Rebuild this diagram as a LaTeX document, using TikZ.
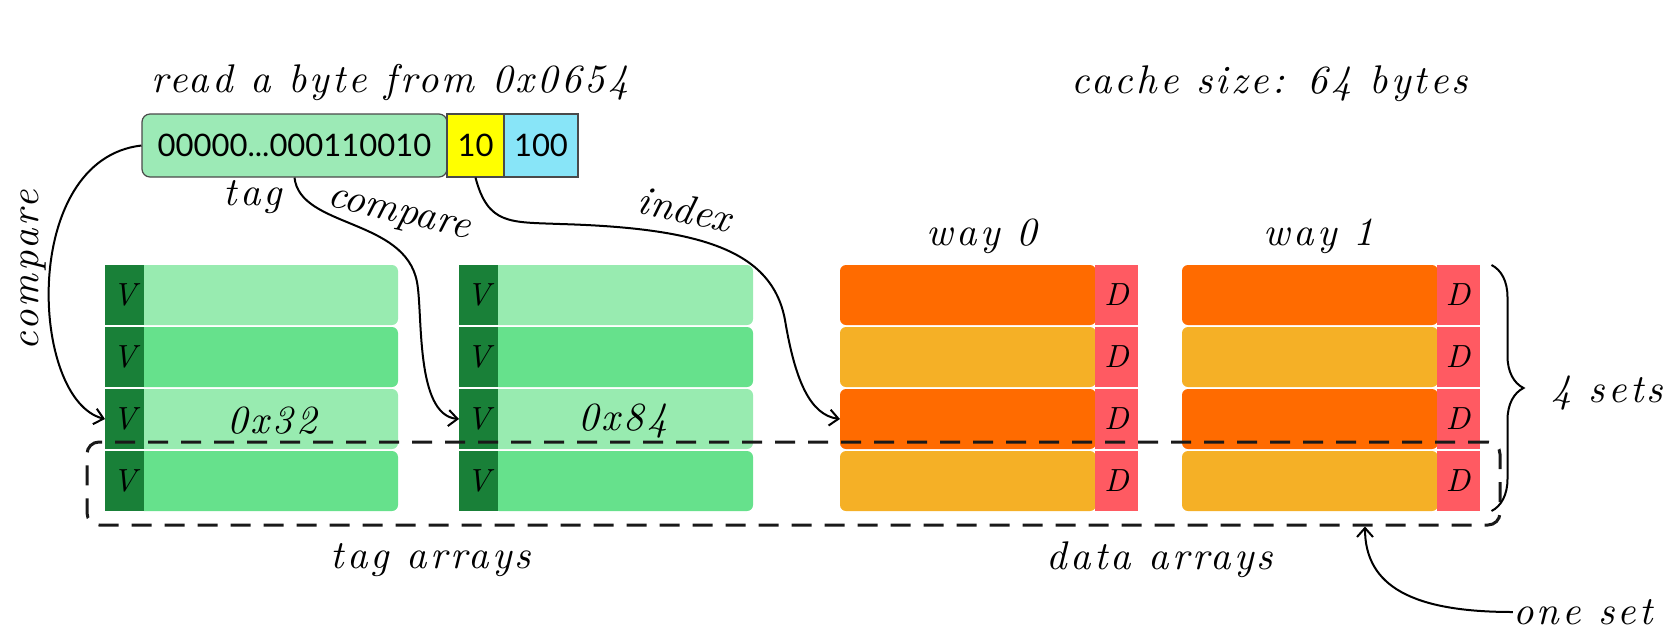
\documentclass[tikz,border=0pt]{standalone}
\usepackage{fontspec}
\newfontfamily\handfont[Extension=.otf,LetterSpace=8]{lmroman10-italic}
\newfontfamily\handplain[Extension=.otf]{lmroman10-italic}
\newfontfamily\numfont{Lato}
\usetikzlibrary{arrows.meta,decorations.pathreplacing,calc}
\definecolor{tagl}{HTML}{98EBB0}
\definecolor{tagm}{HTML}{66E18C}
\definecolor{tagv}{HTML}{198038}
\definecolor{dor}{HTML}{FF6B00}
\definecolor{dgold}{HTML}{F5B026}
\definecolor{dred}{HTML}{FF5A62}
\definecolor{addrg}{HTML}{9CEAB6}
\definecolor{addry}{HTML}{FFFF00}
\definecolor{addrb}{HTML}{88E5F8}
\definecolor{edge}{HTML}{4A4A4A}
\begin{document}
\begin{tikzpicture}[x=0.5pt,y=-0.5pt,
  hand/.style={font=\handfont\fontsize{20}{24}\selectfont, inner sep=0pt},
  handrot/.style={font=\handplain\fontsize{20.5}{24}\selectfont, inner sep=0pt},
  small/.style={font=\handfont\fontsize{16}{20}\selectfont},
  cell/.style={inner sep=0pt, outer sep=0pt, minimum height=30pt},
  vcell/.style={cell, fill=tagv, minimum width=19.5pt, small},
  tbody/.style={cell, fill=#1, minimum width=130pt, rounded corners=3pt},
  dbody/.style={cell, fill=#1, minimum width=128pt, rounded corners=3pt},
  dcell/.style={cell, fill=dred, minimum width=21.5pt, small},
  conn/.style={draw=black, line width=1pt, -{Straight Barb[length=4.5pt,width=8pt]}},
  abox/.style={draw=edge, line width=0.6pt, inner sep=0pt, minimum height=31.5pt,
    font=\numfont\fontsize{15.5}{18}\selectfont},
  setbox/.style={draw=black!90, line width=1.5pt, dash pattern=on 10pt off 6.5pt,
    rounded corners=6pt, inner sep=0pt}
]
\useasboundingbox (0,0) rectangle (1678,639);

% rows
\foreach \r/\y/\tc/\dc in {1/295/tagl/dor,2/357/tagm/dgold,3/419/tagl/dor,4/481/tagm/dgold}{
  \node[tbody=\tc] (ta\r) at (268,\y) {};
  \node[vcell] (tav\r) at (124.5,\y) {V};
  \node[tbody=\tc] (tb\r) at (623,\y) {};
  \node[vcell] (tbv\r) at (478.5,\y) {V};
  \node[dbody=\dc] (da\r) at (968,\y) {};
  \node[dcell] (dad\r) at (1116.5,\y) {D};
  \node[dbody=\dc] (db\r) at (1310,\y) {};
  \node[dcell] (dbd\r) at (1458,\y) {D};
}
\node[hand] (l32) at (272,421) {0x32};
\node[hand] (l84) at (623,421) {0x84};

% address
\node[abox, fill=addrg, rounded corners=4pt, minimum width=152.5pt] (atag) at (294.5,145.5) {00000...000110010};
\node[abox, fill=addry, minimum width=28.5pt] (aidx) at (475.5,145.5) {10};
\node[abox, fill=addrb, minimum width=37pt] (aoff) at (541,145.5) {100};

% texts
\node[hand] (title) at (390,82) {read a byte from 0x0654};
\node[hand] (csize) at (1270,84) {cache size: 64 bytes};
\node[hand] (ltag) at (253,197) {tag};
\node[handrot, rotate=-13] (lcmp2) at (398,217) {compare};
\node[hand, rotate=90] (lcmp1) at (34,270) {compare};
\node[handrot, rotate=-12] (lidx) at (685,209) {index};
\node[hand] (way0) at (982,236) {way 0};
\node[hand] (way1) at (1319,236) {way 1};
\node[hand] (tarr) at (431,560) {tag arrays};
\node[hand] (darr) at (1160,560) {data arrays};
\node[hand] (oneset) at (1583,612) {one set};
\node[hand] (fsets) at (1607,393) {4 sets};

% one set box
\node[setbox, minimum width=706.5pt, minimum height=41.5pt] (sbox) at (793.5,483.5) {};
\coordinate (setpt) at (1365,0 |- sbox.south);

% brace
\draw[line width=1pt, decorate, decoration={brace, amplitude=16pt}]
  ($(dbd1.north east)+(12,0)$) -- ($(dbd4.south east)+(12,0)$);

% connectors
\draw[conn] (atag.west) .. controls +(-122,14) and +(-75,-19) .. (tav3.west);
\draw[conn] (atag.south) .. controls (300,228) and (405,218) .. (417,282)
  .. controls (423,313) and (415,415) .. (tbv3.west);
\draw[conn] (aidx.south) .. controls (488,225) and (510,222) .. (560,224)
  .. controls (700,228) and (772,250) .. (785,320)
  .. controls (795,380) and (810,415) .. (da3.west);
\draw[conn] (oneset.west) .. controls +(-100,0) and +(0,60) .. (setpt);
\end{tikzpicture}
\end{document}
